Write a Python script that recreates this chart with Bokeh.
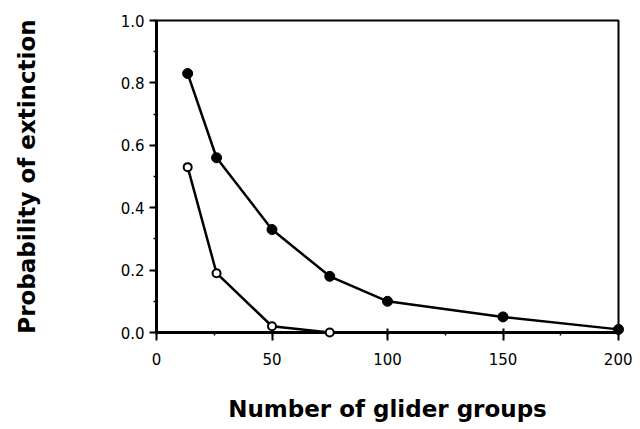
from bokeh.plotting import figure
from bokeh.models import SingleIntervalTicker, PrintfTickFormatter, Range1d
from bokeh.embed import file_html
from bokeh.resources import INLINE

# Data
groups_filled = [13.5, 26, 50, 75, 100, 150, 200]
prob_filled = [0.83, 0.56, 0.33, 0.18, 0.10, 0.05, 0.01]
groups_open = [13.5, 26, 50, 75]
prob_open = [0.53, 0.19, 0.02, 0.0]

x_label = "Number of glider groups"
y_label = "Probability of extinction"

p = figure(width=632, height=425, output_backend="svg", toolbar_location=None,
           x_range=Range1d(0, 200), y_range=Range1d(0, 1.0),
           min_border_left=156, min_border_right=14, min_border_top=20, min_border_bottom=93)
p.background_fill_color = "white"
p.border_fill_color = "white"
p.xgrid.visible = False
p.ygrid.visible = False
p.outline_line_color = "black"
p.outline_line_width = 2
p.outline_line_alpha = 1.0

r1 = p.line(groups_filled, prob_filled, line_color="black", line_width=2.5)
r2 = p.scatter(groups_filled, prob_filled, size=10, marker="circle", fill_color="black", line_color="black")
r3 = p.line(groups_open, prob_open, line_color="black", line_width=2.5)
r4 = p.scatter(groups_open, prob_open, size=8, marker="circle", fill_color="white", line_color="black", line_width=2)
for r in (r1, r2, r3, r4):
    r.level = "overlay"

p.xaxis.ticker = SingleIntervalTicker(interval=50, num_minor_ticks=2)
p.yaxis.ticker = SingleIntervalTicker(interval=0.2, num_minor_ticks=2)
p.yaxis.formatter = PrintfTickFormatter(format="%.1f")

for ax in (p.xaxis[0], p.yaxis[0]):
    ax.axis_line_color = "black"
    ax.axis_line_width = 3
    ax.major_tick_line_color = "black"
    ax.major_tick_line_width = 2
    ax.minor_tick_line_color = "black"
    ax.minor_tick_line_width = 1.5
    ax.minor_tick_in = 0
    ax.minor_tick_out = 3
    ax.major_label_text_font = "DejaVu Sans"
    ax.major_label_text_font_size = "15px"
    ax.major_label_text_color = "black"
    ax.axis_label_text_font = "DejaVu Sans"
    ax.axis_label_text_font_style = "bold"
    ax.axis_label_text_color = "black"

p.xaxis.major_tick_in = 4
p.xaxis.major_tick_out = 8
p.xaxis.major_label_standoff = 12
p.xaxis.axis_label = x_label
p.xaxis.axis_label_standoff = 28
p.xaxis.axis_label_text_font_size = "23px"

p.yaxis.major_tick_in = 0
p.yaxis.major_tick_out = 7
p.yaxis.major_label_standoff = 5
p.yaxis.axis_label = y_label
p.yaxis.axis_label_standoff = 78
p.yaxis.axis_label_text_font_size = "23px"

open("out.html", "w").write(file_html(p, INLINE))
